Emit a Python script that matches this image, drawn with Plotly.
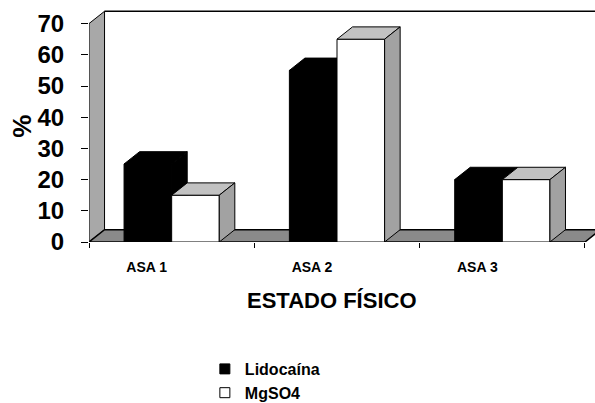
import plotly.graph_objects as go

# Distribution of physical status (ASA) per group, in percent
categories = ["ASA 1", "ASA 2", "ASA 3"]
lidocaina = [25, 55, 20]
mgso4 = [15, 65, 20]
y_ticks = [0, 10, 20, 30, 40, 50, 60, 70]

FONT = "Liberation Sans, Arial, Helvetica, sans-serif"

# Pseudo-3D geometry in data units
BAR_W = 0.288        # width of one column face
DX, DY = 0.094, 3.95  # depth offset of the 3D extrusion
Y_TOP = 70
X0, X1 = -0.5, len(categories) - 0.5

fig = go.Figure()


def poly(xs, ys, fill, line="black", width=1):
    fig.add_trace(go.Scatter(
        x=xs + [xs[0]], y=ys + [ys[0]], mode="lines", fill="toself",
        fillcolor=fill, line=dict(color=line, width=width),
        hoverinfo="skip", showlegend=False))


# side wall, floor and back wall edge
poly([X0, X0, X0 + DX, X0 + DX], [0, Y_TOP, Y_TOP + DY, DY], "#a8a8a8")
poly([X0, X1, X1 + DX, X0 + DX], [0, 0, DY, DY], "#8a8a8a", width=1.5)
fig.add_trace(go.Scatter(x=[X0 + DX, X1 + 2 * DX], y=[Y_TOP + DY, Y_TOP + DY],
                         mode="lines", line=dict(color="black", width=1.5),
                         hoverinfo="skip", showlegend=False))


def column(xl, v, front, top, side):
    xr = xl + BAR_W
    poly([xl, xr, xr, xl], [0, 0, v, v], front)
    poly([xl, xr, xr + DX, xl + DX], [v, v, v + DY, v + DY], top)
    poly([xr, xr + DX, xr + DX, xr], [0, DY, v + DY, v], side)


for i in range(len(categories)):
    column(i - BAR_W, lidocaina[i], "black", "black", "black")
    column(i, mgso4[i], "white", "#c2c2c2", "#a2a2a2")

# legend entries
fig.add_trace(go.Scatter(x=[None], y=[None], mode="markers", name="Lidocaína",
                         marker=dict(symbol="square", size=10, color="black",
                                     line=dict(color="black", width=1))))
fig.add_trace(go.Scatter(x=[None], y=[None], mode="markers", name="MgSO4",
                         marker=dict(symbol="square", size=10, color="white",
                                     line=dict(color="black", width=1))))

fig.update_layout(
    width=595, height=403,
    margin=dict(l=89, r=0, t=8, b=161, autoexpand=False),
    paper_bgcolor="white", plot_bgcolor="white",
    font=dict(family=FONT, color="black"),
    showlegend=True,
    legend=dict(x=0.229, y=-0.47, xanchor="left", yanchor="top",
                font=dict(size=16, family=FONT, weight="bold"),
                itemwidth=30, tracegroupgap=0, bgcolor="rgba(0,0,0,0)"),
    xaxis=dict(range=[X0, X0 + 506 / 165.33], showgrid=False, zeroline=False,
               showline=False, tickmode="array",
               tickvals=list(range(len(categories))), ticktext=categories,
               ticks="", ticklabelshift=-25, ticklabelstandoff=15,
               tickfont=dict(size=14, family=FONT, weight="bold"),
               minor=dict(tickmode="array", tickvals=[X0, 0.5, 1.5, X1],
                          ticks="outside", ticklen=5, tickcolor="black"),
               fixedrange=True),
    yaxis=dict(range=[0, 75], showgrid=False, zeroline=False, showline=False,
               tickmode="array", tickvals=y_ticks,
               ticks="outside", ticklen=7, tickcolor="black",
               ticklabelstandoff=12,
               tickfont=dict(size=24, family=FONT, weight="bold"),
               fixedrange=True),
    annotations=[
        dict(text="ESTADO FÍSICO", xref="paper", yref="paper",
             x=0.480, y=-0.248, xanchor="center", yanchor="middle",
             showarrow=False, font=dict(size=22, family=FONT, weight="bold")),
        dict(text="%", xref="paper", yref="paper", x=-0.133, y=0.496,
             xanchor="center", yanchor="middle", textangle=-90,
             showarrow=False, font=dict(size=26, family=FONT, weight="bold")),
    ],
)

fig.write_html("out.html")
